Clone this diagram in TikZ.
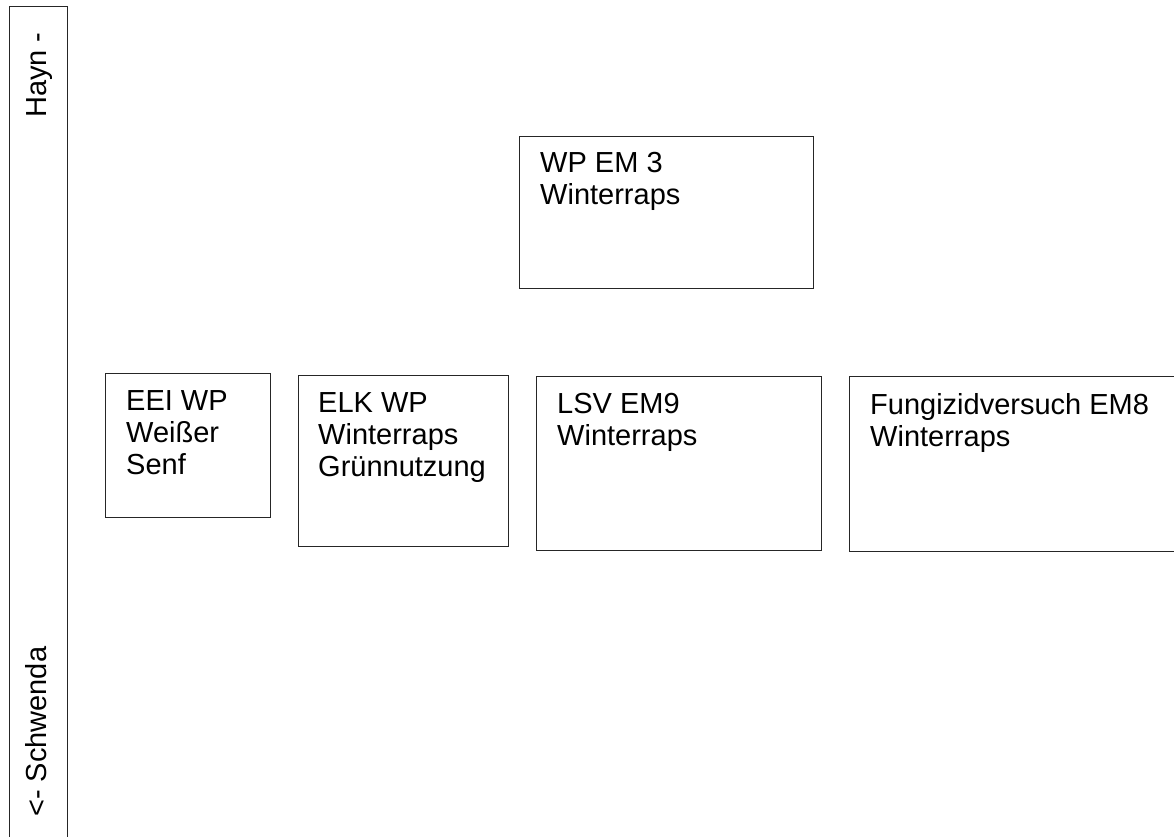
\documentclass[tikz,border=0pt]{standalone}
\usepackage{fontspec}
\setmainfont{Liberation Sans}
\usetikzlibrary{positioning}
\tikzset{
  feld/.style={draw=black!85,line width=1.4pt,anchor=north west,inner sep=0pt},
  lbl/.style={font=\fontsize{29}{32}\selectfont,align=left,inner sep=0pt},
  side/.style={font=\fontsize{29}{32}\selectfont,rotate=90,inner sep=0pt,anchor=base west},
}
\begin{document}
\begin{tikzpicture}[x=1pt,y=-1pt]
  \clip (0,0) rectangle (1174,837);
  % road along the left edge
  \node[feld,minimum width=58pt,minimum height=850pt] (weg) at (9,6) {};
  \node[side] (hayn) at (46,118) {Hayn -};
  \node[side] (schwenda) at (46,817) {<- Schwenda};
  % trial plots
  \node[feld,minimum width=294pt,minimum height=152pt] (em3) at (519,136) {};
  \node[feld,minimum width=165pt,minimum height=144pt] (eei) at (105,373) {};
  \node[feld,minimum width=210pt,minimum height=171pt] (elk) at (298,375) {};
  \node[feld,minimum width=285pt,minimum height=174pt] (lsv) at (536,376) {};
  \node[feld,minimum width=340pt,minimum height=175pt] (fung) at (849,376) {};
  % plot labels
  \node[lbl,below right=16pt and 21pt of em3.north west] (em3t) {WP EM 3\\Winterraps};
  \node[lbl,below right=17pt and 21pt of eei.north west] (eeit) {EEI WP\\Weißer\\Senf};
  \node[lbl,below right=17pt and 20pt of elk.north west] (elkt) {ELK WP\\Winterraps\\Grünnutzung};
  \node[lbl,below right=17pt and 21pt of lsv.north west] (lsvt) {LSV EM9\\Winterraps};
  \node[lbl,below right=17pt and 21pt of fung.north west] (fungt) {Fungizidversuch EM8\\Winterraps};
\end{tikzpicture}
\end{document}
